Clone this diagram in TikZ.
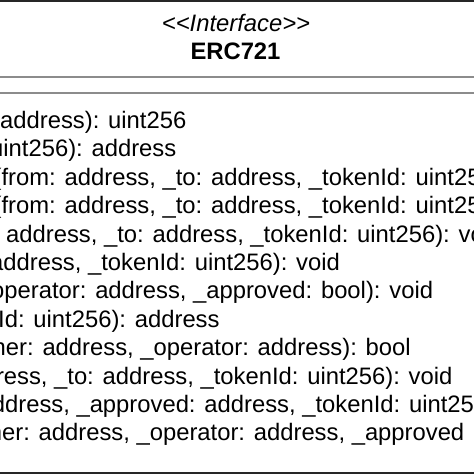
\documentclass[tikz,border=0pt]{standalone}
\usepackage{fontspec}
\setmainfont[Ligatures=NoCommon]{Liberation Sans}
\definecolor{borderc}{HTML}{262626}
\definecolor{sepc}{HTML}{8C8C8C}
\definecolor{textc}{HTML}{000000}
\begin{document}
\begin{tikzpicture}[x=1pt,y=-1pt,
  method/.style={anchor=base west, inner sep=0pt, text=textc, font=\fontsize{23.8}{28}\selectfont},
  titletext/.style={anchor=base, inner sep=0pt, text=textc, font=\fontsize{23.8}{28}\selectfont},
  sepline/.style={draw=sepc, line width=1.6pt},
  border/.style={fill=borderc}]
\useasboundingbox (0,0) rectangle (474,474);
\clip (0,0) rectangle (474,474);
\fill[white] (0,0) rectangle (474,474);
% borders
\fill[border] (0,0) rectangle (474,2.4);
\fill[border] (0,471.6) rectangle (474,474);
% compartment separators
\draw[sepline] (0,77) -- (474,77);
\draw[sepline] (0,93) -- (474,93);
% header
\node[titletext] (stereo) at (236,31.5) {\itshape \textless{}\textless{}Interface\textgreater{}\textgreater{}};
\node[titletext] (cname) at (235.5,59.5) {\bfseries ERC721};
% operations
\node[method] (m1)  at (0,128.5)   {address): uint256};
\node[method] (m2)  at (-10,156.9) {uint256): address};
\node[method] (m3)  at (-6.5,185.3) {(from: address, \_to: address, \_tokenId: uint25};
\node[method] (m4)  at (-6.5,213.7) {(from: address, \_to: address, \_tokenId: uint25};
\node[method] (m5)  at (6,242.1)   {address, \_to: address, \_tokenId: uint256): vo};
\node[method] (m6)  at (-10,270.5) {address, \_tokenId: uint256): void};
\node[method] (m7)  at (-9,298.9)  {operator: address, \_approved: bool): void};
\node[method] (m8)  at (-2,327.3)  {Id: uint256): address};
\node[method] (m9)  at (-7.5,355.7) {ner: address, \_operator: address): bool};
\node[method] (m10) at (-4.2,384.1) {ress, \_to: address, \_tokenId: uint256): void};
\node[method] (m11) at (-8.3,412.5) {ddress, \_approved: address, \_tokenId: uint25};
\node[method] (m12) at (-11.3,440.9) {ner: address, \_operator: address, \_approved};
\end{tikzpicture}
\end{document}
